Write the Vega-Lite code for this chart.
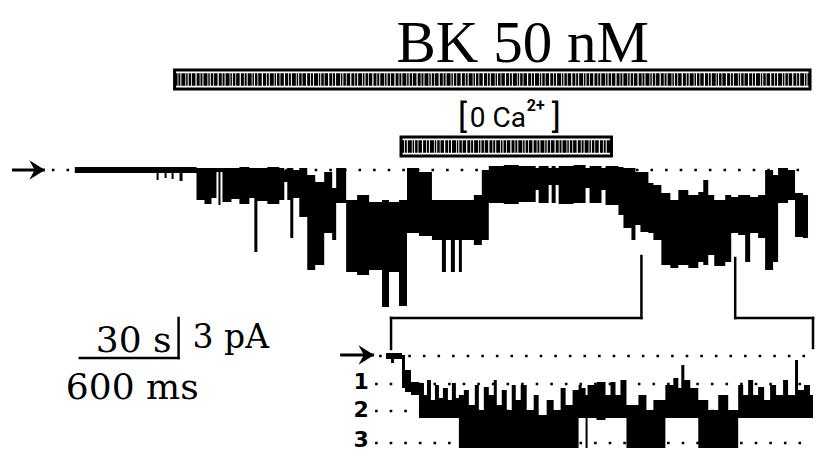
{
  "$schema": "https://vega.github.io/schema/vega-lite/v6.json",
  "width": 817,
  "height": 452,
  "autosize": {"type": "fit", "contains": "padding"},
  "padding": 0,
  "background": "white",
  "config": {"view": {"stroke": null}},
  "datasets": {
    "bars": [
      {"agent": "BK 50 nM", "start": 175, "end": 812, "y0": 70, "y1": 89, "ymid": 79.5},
      {"agent": "0 Ca2+", "start": 402, "end": 613, "y0": 137, "y1": 156, "ymid": 146.5}
    ],
    "dots": [
      {"trace": "main", "level": "closed", "x0": 52, "x1": 812, "y": 170},
      {"trace": "expanded", "level": "closed", "x0": 380, "x1": 815, "y": 356},
      {"trace": "expanded", "level": "1", "x0": 376, "x1": 815, "y": 384},
      {"trace": "expanded", "level": "2", "x0": 376, "x1": 815, "y": 411},
      {"trace": "expanded", "level": "3", "x0": 376, "x1": 815, "y": 443}
    ],
    "main": [
      {"t": 75, "a": 167, "b": 173}, {"t": 157, "a": 167, "b": 180}, {"t": 159, "a": 167, "b": 173},
      {"t": 165, "a": 167, "b": 178}, {"t": 167, "a": 167, "b": 173}, {"t": 172, "a": 167, "b": 179},
      {"t": 174, "a": 167, "b": 173}, {"t": 180, "a": 167, "b": 181}, {"t": 183, "a": 167, "b": 173},
      {"t": 197, "a": 168, "b": 200}, {"t": 205, "a": 168, "b": 204}, {"t": 212, "a": 168, "b": 198},
      {"t": 217, "a": 168, "b": 172}, {"t": 219, "a": 168, "b": 205}, {"t": 221, "a": 168, "b": 172},
      {"t": 223, "a": 168, "b": 202}, {"t": 232, "a": 168, "b": 199}, {"t": 240, "a": 167, "b": 204},
      {"t": 250, "a": 168, "b": 198}, {"t": 255, "a": 168, "b": 252}, {"t": 258, "a": 168, "b": 201},
      {"t": 268, "a": 167, "b": 204}, {"t": 280, "a": 168, "b": 200}, {"t": 285, "a": 170, "b": 182},
      {"t": 288, "a": 168, "b": 200}, {"t": 291, "a": 168, "b": 238}, {"t": 294, "a": 170, "b": 198},
      {"t": 300, "a": 168, "b": 217}, {"t": 308, "a": 175, "b": 270}, {"t": 316, "a": 182, "b": 265},
      {"t": 325, "a": 172, "b": 233}, {"t": 333, "a": 188, "b": 240}, {"t": 337, "a": 168, "b": 203},
      {"t": 347, "a": 200, "b": 272}, {"t": 358, "a": 195, "b": 275}, {"t": 370, "a": 202, "b": 270},
      {"t": 383, "a": 200, "b": 307}, {"t": 390, "a": 202, "b": 272}, {"t": 400, "a": 200, "b": 306},
      {"t": 408, "a": 168, "b": 233}, {"t": 420, "a": 172, "b": 236}, {"t": 433, "a": 200, "b": 240},
      {"t": 443, "a": 200, "b": 272}, {"t": 447, "a": 200, "b": 240}, {"t": 452, "a": 200, "b": 272},
      {"t": 456, "a": 200, "b": 240}, {"t": 460, "a": 200, "b": 272}, {"t": 463, "a": 200, "b": 240},
      {"t": 475, "a": 195, "b": 245}, {"t": 483, "a": 170, "b": 240}, {"t": 490, "a": 166, "b": 203},
      {"t": 505, "a": 165, "b": 204}, {"t": 520, "a": 166, "b": 202}, {"t": 537, "a": 168, "b": 190},
      {"t": 540, "a": 166, "b": 203}, {"t": 550, "a": 168, "b": 185}, {"t": 553, "a": 166, "b": 203},
      {"t": 557, "a": 168, "b": 185}, {"t": 560, "a": 166, "b": 204}, {"t": 575, "a": 165, "b": 203},
      {"t": 587, "a": 168, "b": 188}, {"t": 591, "a": 166, "b": 203}, {"t": 603, "a": 168, "b": 190},
      {"t": 607, "a": 166, "b": 205}, {"t": 620, "a": 167, "b": 215}, {"t": 625, "a": 168, "b": 228},
      {"t": 633, "a": 168, "b": 240}, {"t": 637, "a": 172, "b": 225}, {"t": 642, "a": 172, "b": 232},
      {"t": 650, "a": 183, "b": 233}, {"t": 655, "a": 185, "b": 240}, {"t": 663, "a": 193, "b": 265},
      {"t": 672, "a": 200, "b": 268}, {"t": 680, "a": 190, "b": 265}, {"t": 690, "a": 195, "b": 268},
      {"t": 700, "a": 192, "b": 262}, {"t": 705, "a": 180, "b": 265}, {"t": 710, "a": 195, "b": 255},
      {"t": 716, "a": 200, "b": 266}, {"t": 727, "a": 195, "b": 262}, {"t": 733, "a": 197, "b": 233},
      {"t": 740, "a": 195, "b": 235}, {"t": 747, "a": 195, "b": 262}, {"t": 752, "a": 197, "b": 233},
      {"t": 760, "a": 195, "b": 238}, {"t": 767, "a": 170, "b": 270}, {"t": 775, "a": 175, "b": 262},
      {"t": 780, "a": 168, "b": 203}, {"t": 790, "a": 170, "b": 200}, {"t": 797, "a": 193, "b": 237},
      {"t": 805, "a": 195, "b": 238}, {"t": 810, "a": 195, "b": 238}
    ],
    "expanded": [
      {"t": 387, "a": 353, "b": 359}, {"t": 392, "a": 353, "b": 363}, {"t": 395, "a": 353, "b": 359},
      {"t": 403, "a": 355, "b": 388}, {"t": 406, "a": 370, "b": 392}, {"t": 412, "a": 382, "b": 395},
      {"t": 420, "a": 383, "b": 418}, {"t": 425, "a": 395, "b": 418}, {"t": 428, "a": 380, "b": 418},
      {"t": 432, "a": 400, "b": 418}, {"t": 436, "a": 385, "b": 418}, {"t": 440, "a": 398, "b": 418},
      {"t": 444, "a": 388, "b": 418}, {"t": 449, "a": 400, "b": 418}, {"t": 453, "a": 383, "b": 418},
      {"t": 457, "a": 398, "b": 418}, {"t": 460, "a": 395, "b": 448}, {"t": 465, "a": 390, "b": 448},
      {"t": 470, "a": 405, "b": 448}, {"t": 476, "a": 385, "b": 448}, {"t": 480, "a": 410, "b": 448},
      {"t": 485, "a": 387, "b": 448}, {"t": 490, "a": 395, "b": 448}, {"t": 495, "a": 380, "b": 448},
      {"t": 498, "a": 405, "b": 448}, {"t": 503, "a": 390, "b": 448}, {"t": 508, "a": 410, "b": 448},
      {"t": 513, "a": 385, "b": 448}, {"t": 517, "a": 400, "b": 448}, {"t": 522, "a": 385, "b": 448},
      {"t": 528, "a": 410, "b": 448}, {"t": 535, "a": 395, "b": 448}, {"t": 540, "a": 415, "b": 448},
      {"t": 548, "a": 400, "b": 448}, {"t": 555, "a": 410, "b": 448}, {"t": 562, "a": 388, "b": 448},
      {"t": 567, "a": 405, "b": 448}, {"t": 574, "a": 390, "b": 448}, {"t": 580, "a": 385, "b": 418},
      {"t": 583, "a": 388, "b": 418}, {"t": 587, "a": 395, "b": 448}, {"t": 589, "a": 385, "b": 418},
      {"t": 598, "a": 382, "b": 420}, {"t": 607, "a": 395, "b": 418}, {"t": 612, "a": 382, "b": 418},
      {"t": 617, "a": 395, "b": 418}, {"t": 622, "a": 380, "b": 418}, {"t": 628, "a": 405, "b": 448},
      {"t": 640, "a": 395, "b": 448}, {"t": 648, "a": 410, "b": 448}, {"t": 655, "a": 400, "b": 448},
      {"t": 667, "a": 385, "b": 418}, {"t": 675, "a": 378, "b": 418}, {"t": 680, "a": 388, "b": 418},
      {"t": 683, "a": 365, "b": 418}, {"t": 686, "a": 380, "b": 418}, {"t": 692, "a": 388, "b": 418},
      {"t": 700, "a": 400, "b": 448}, {"t": 710, "a": 410, "b": 448}, {"t": 720, "a": 395, "b": 448},
      {"t": 730, "a": 410, "b": 448}, {"t": 740, "a": 385, "b": 418}, {"t": 745, "a": 395, "b": 418},
      {"t": 750, "a": 380, "b": 418}, {"t": 755, "a": 395, "b": 418}, {"t": 760, "a": 387, "b": 418},
      {"t": 766, "a": 400, "b": 418}, {"t": 772, "a": 385, "b": 418}, {"t": 778, "a": 395, "b": 418},
      {"t": 785, "a": 380, "b": 418}, {"t": 790, "a": 395, "b": 418}, {"t": 797, "a": 360, "b": 418},
      {"t": 800, "a": 390, "b": 418}, {"t": 806, "a": 385, "b": 418}, {"t": 812, "a": 395, "b": 418},
      {"t": 815, "a": 395, "b": 418}
    ],
    "lines": [
      {"part": "bracket", "x0": 643, "x1": 643, "y0": 256, "y1": 318},
      {"part": "bracket", "x0": 392, "x1": 643, "y0": 318, "y1": 318},
      {"part": "bracket", "x0": 392, "x1": 392, "y0": 318, "y1": 349},
      {"part": "bracket", "x0": 737, "x1": 737, "y0": 258, "y1": 318},
      {"part": "bracket", "x0": 737, "x1": 815, "y0": 318, "y1": 318},
      {"part": "bracket", "x0": 815, "x1": 815, "y0": 318, "y1": 348},
      {"part": "scale", "x0": 80, "x1": 179, "y0": 358, "y1": 358},
      {"part": "scale", "x0": 179, "x1": 179, "y0": 318, "y1": 358}
    ],
    "arrows": [
      {"trace": "main", "x0": 12, "x1": 45, "y": 170},
      {"trace": "expanded", "x0": 341, "x1": 375, "y": 355}
    ]
  },
  "encoding": {
    "x": {"type": "quantitative", "scale": {"domain": [0, 817], "nice": false, "zero": false}, "axis": null},
    "y": {"type": "quantitative", "scale": {"domain": [0, 452], "nice": false, "zero": false, "reverse": true}, "axis": null}
  },
  "layer": [
    {
      "data": {"name": "bars"},
      "mark": {"type": "rect", "fill": "white", "stroke": "black", "strokeWidth": 3},
      "encoding": {
        "x": {"field": "start", "type": "quantitative"},
        "x2": {"field": "end"},
        "y": {"field": "y0", "type": "quantitative"},
        "y2": {"field": "y1"}
      }
    },
    {
      "data": {"name": "bars"},
      "mark": {"type": "rule", "color": "black", "strokeWidth": 12.5, "strokeCap": "butt",
               "strokeDash": [3, 0.8, 2, 1, 4, 0.8, 1.5, 1, 2.5, 0.8, 3.5, 1.2]},
      "encoding": {
        "x": {"field": "start", "type": "quantitative"},
        "x2": {"field": "end"},
        "y": {"field": "ymid", "type": "quantitative"}
      }
    },
    {
      "data": {"name": "dots"},
      "mark": {"type": "rule", "color": "black", "strokeWidth": 2.6, "strokeCap": "butt", "strokeDash": [2.6, 12]},
      "encoding": {
        "x": {"field": "x0", "type": "quantitative"},
        "x2": {"field": "x1"},
        "y": {"field": "y", "type": "quantitative"}
      }
    },
    {
      "data": {"name": "main"},
      "mark": {"type": "area", "interpolate": "step-after", "color": "black"},
      "encoding": {
        "x": {"field": "t", "type": "quantitative"},
        "y": {"field": "a", "type": "quantitative"},
        "y2": {"field": "b"}
      }
    },
    {
      "data": {"name": "expanded"},
      "mark": {"type": "area", "interpolate": "step-after", "color": "black"},
      "encoding": {
        "x": {"field": "t", "type": "quantitative"},
        "y": {"field": "a", "type": "quantitative"},
        "y2": {"field": "b"}
      }
    },
    {
      "data": {"name": "lines"},
      "mark": {"type": "rule", "color": "black", "strokeWidth": 2.5, "strokeCap": "square"},
      "encoding": {
        "x": {"field": "x0", "type": "quantitative"},
        "x2": {"field": "x1"},
        "y": {"field": "y0", "type": "quantitative"},
        "y2": {"field": "y1"}
      }
    },
    {
      "data": {"name": "arrows"},
      "mark": {"type": "rule", "color": "black", "strokeWidth": 3, "strokeCap": "butt"},
      "encoding": {
        "x": {"field": "x0", "type": "quantitative"},
        "x2": {"field": "x1"},
        "y": {"field": "y", "type": "quantitative"}
      }
    },
    {
      "data": {"name": "arrows"},
      "mark": {"type": "point", "shape": "M-1.6,-1L0,0L-1.6,1L-1.05,0Z", "filled": true, "color": "black", "size": 380, "opacity": 1},
      "encoding": {
        "x": {"field": "x1", "type": "quantitative"},
        "y": {"field": "y", "type": "quantitative"}
      }
    },
    {
      "data": {"values": [{"text": "BK 50 nM", "x": 524, "y": 62}]},
      "mark": {"type": "text", "font": "Liberation Serif", "fontSize": 59, "align": "center", "baseline": "alphabetic", "color": "black"},
      "encoding": {
        "x": {"field": "x", "type": "quantitative"},
        "y": {"field": "y", "type": "quantitative"},
        "text": {"field": "text"}
      }
    },
    {
      "data": {"values": [{"text": "0 Ca", "x": 471, "y": 127}]},
      "mark": {"type": "text", "font": "Roboto", "fontSize": 28, "align": "left", "baseline": "alphabetic", "color": "black"},
      "encoding": {
        "x": {"field": "x", "type": "quantitative"},
        "y": {"field": "y", "type": "quantitative"},
        "text": {"field": "text"}
      }
    },
    {
      "data": {"values": [{"text": "2+", "x": 528, "y": 111}]},
      "mark": {"type": "text", "font": "Roboto", "fontSize": 16, "fontWeight": "bold", "align": "left", "baseline": "alphabetic", "color": "black"},
      "encoding": {
        "x": {"field": "x", "type": "quantitative"},
        "y": {"field": "y", "type": "quantitative"},
        "text": {"field": "text"}
      }
    },
    {
      "data": {"values": [{"text": "[", "x": 459, "y": 128}, {"text": "]", "x": 553, "y": 128}]},
      "mark": {"type": "text", "font": "Roboto", "fontSize": 34, "align": "left", "baseline": "alphabetic", "color": "black"},
      "encoding": {
        "x": {"field": "x", "type": "quantitative"},
        "y": {"field": "y", "type": "quantitative"},
        "text": {"field": "text"}
      }
    },
    {
      "data": {"values": [
        {"text": "30 s", "x": 96, "y": 352},
        {"text": "600 ms", "x": 66, "y": 399}
      ]},
      "mark": {"type": "text", "font": "DejaVu Serif", "fontSize": 36, "align": "left", "baseline": "alphabetic", "color": "black"},
      "encoding": {
        "x": {"field": "x", "type": "quantitative"},
        "y": {"field": "y", "type": "quantitative"},
        "text": {"field": "text"}
      }
    },
    {
      "data": {"values": [{"text": "3 pA", "x": 193, "y": 348}]},
      "mark": {"type": "text", "font": "DejaVu Serif", "fontSize": 33, "align": "left", "baseline": "alphabetic", "color": "black"},
      "encoding": {
        "x": {"field": "x", "type": "quantitative"},
        "y": {"field": "y", "type": "quantitative"},
        "text": {"field": "text"}
      }
    },
    {
      "data": {"values": [
        {"text": "1", "x": 362, "y": 389},
        {"text": "2", "x": 362, "y": 417},
        {"text": "3", "x": 362, "y": 447}
      ]},
      "mark": {"type": "text", "font": "DejaVu Sans", "fontSize": 22, "fontWeight": "bold", "align": "center", "baseline": "alphabetic", "color": "black"},
      "encoding": {
        "x": {"field": "x", "type": "quantitative"},
        "y": {"field": "y", "type": "quantitative"},
        "text": {"field": "text"}
      }
    }
  ]
}
